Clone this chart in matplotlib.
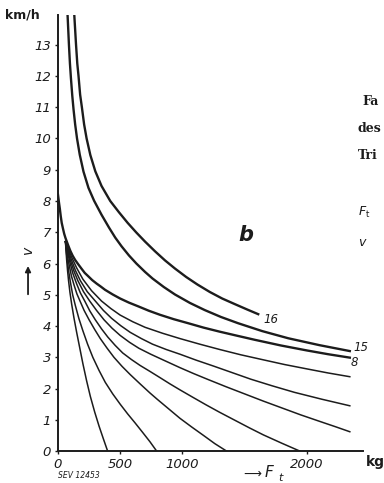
import matplotlib
matplotlib.use("Agg")
import matplotlib.pyplot as plt

# traction characteristics v(F_t); points read as (kg, km/h)
c16_F = [131, 145, 155, 165, 178, 192, 210, 230, 260, 300, 350, 420, 490, 560, 630, 700,
         780, 860, 940, 1030, 1120, 1220, 1320, 1422, 1520, 1609]
c16_v = [13.95, 13.0, 12.4, 12.0, 11.4, 11.0, 10.45, 10.0, 9.47, 8.95, 8.48, 8.0, 7.64, 7.3, 6.99, 6.7,
         6.39, 6.1, 5.84, 5.57, 5.33, 5.09, 4.88, 4.7, 4.53, 4.38]
c15_F = [77, 88, 96, 104, 115, 125, 138, 153, 175, 205, 245, 290, 350, 410, 460, 511, 570, 630, 700,
         760, 850, 940, 1060, 1180, 1310, 1448, 1640, 1850, 2100, 2345]
c15_v = [13.95, 13.0, 12.4, 11.93, 11.36, 10.93, 10.45, 10.0, 9.48, 8.94, 8.42, 8.01, 7.56, 7.15, 6.83,
         6.55, 6.26, 6.0, 5.73, 5.52, 5.25, 5.01, 4.74, 4.51, 4.29, 4.09, 3.84, 3.61, 3.39, 3.2]
c8_F = [0, 8, 15, 22, 30, 40, 50, 60, 70, 85, 100, 118, 137, 160, 190, 215, 244, 275, 310, 345, 378,
        440, 500, 570, 645, 730, 820, 930, 1047, 1170, 1300, 1440, 1582, 1790, 2000, 2170, 2345]
c8_v = [8.2, 7.95, 7.75, 7.52, 7.3, 7.12, 6.95, 6.82, 6.71, 6.55, 6.4, 6.25, 6.12, 5.99, 5.83, 5.7, 5.59,
        5.47, 5.36, 5.26, 5.16, 5.01, 4.88, 4.75, 4.63, 4.49, 4.36, 4.22, 4.09, 3.95, 3.82, 3.69, 3.56,
        3.38, 3.22, 3.1, 2.99]

# lower notches, all leaving the common point near 60 kg / 6.7 km/h
fan_F = [
    [60, 65, 70, 77, 85, 96, 110, 128, 150, 175, 200, 230, 260, 295, 330, 365, 399],
    [60, 67, 75, 86, 100, 118, 140, 168, 200, 238, 280, 330, 380, 440, 500, 560, 620, 680, 739, 793],
    [60, 70, 80, 90, 108, 130, 152, 177, 210, 250, 295, 340, 395, 450, 515, 580, 660, 739, 800, 860,
     920, 980, 1075, 1170, 1260, 1355],
    [60, 72, 95, 120, 150, 180, 215, 255, 300, 350, 400, 460, 520, 590, 660, 739, 820, 900, 980, 1080,
     1190, 1300, 1420, 1540, 1650, 1800, 1944],
    [60, 75, 100, 128, 160, 205, 255, 310, 370, 435, 500, 575, 650, 745, 843, 980, 1090, 1200, 1350,
     1500, 1650, 1800, 1950, 2104, 2230, 2345],
    [60, 80, 105, 140, 180, 235, 300, 365, 430, 505, 580, 670, 760, 870, 980, 1110, 1250, 1400, 1550,
     1720, 1900, 2120, 2345],
    [60, 82, 110, 150, 200, 270, 350, 425, 500, 600, 700, 840, 980, 1140, 1300, 1470, 1650, 1820, 2000,
     2170, 2345],
]
fan_v = [
    [6.7, 6.38, 6.1, 5.77, 5.45, 5.08, 4.7, 4.27, 3.8, 3.3, 2.8, 2.25, 1.75, 1.25, 0.8, 0.39, 0.0],
    [6.7, 6.38, 6.1, 5.75, 5.4, 5.0, 4.65, 4.24, 3.85, 3.42, 3.0, 2.58, 2.2, 1.83, 1.5, 1.19, 0.9, 0.6,
     0.3, 0.0],
    [6.7, 6.4, 6.15, 5.95, 5.6, 5.3, 5.03, 4.8, 4.5, 4.2, 3.89, 3.6, 3.29, 3.0, 2.71, 2.45, 2.15, 1.86,
     1.65, 1.45, 1.25, 1.05, 0.77, 0.5, 0.24, 0.0],
    [6.7, 6.45, 6.05, 5.68, 5.35, 5.06, 4.8, 4.49, 4.2, 3.91, 3.65, 3.38, 3.14, 2.93, 2.74, 2.55, 2.35,
     2.15, 1.96, 1.73, 1.48, 1.24, 0.99, 0.74, 0.52, 0.25, 0.0],
    [6.7, 6.45, 6.1, 5.76, 5.45, 5.1, 4.8, 4.5, 4.2, 3.93, 3.7, 3.48, 3.29, 3.1, 2.92, 2.67, 2.48, 2.3,
     2.06, 1.83, 1.6, 1.38, 1.16, 0.95, 0.78, 0.62],
    [6.7, 6.45, 6.15, 5.78, 5.45, 5.1, 4.8, 4.5, 4.25, 4.01, 3.8, 3.6, 3.42, 3.25, 3.1, 2.91, 2.72, 2.51,
     2.3, 2.09, 1.88, 1.66, 1.45],
    [6.7, 6.47, 6.2, 5.86, 5.5, 5.13, 4.8, 4.56, 4.35, 4.14, 3.96, 3.77, 3.6, 3.42, 3.25, 3.08, 2.92,
     2.77, 2.63, 2.5, 2.38],
]

y_ticks = list(range(0, 14))
x_ticks = [0, 500, 1000, 2000]

ink = "#1c1c1c"
fig = plt.figure(figsize=(3.84, 4.83), dpi=100)
ax = fig.add_axes([0.151, 0.066, 0.794, 0.903])

ax.plot(c16_F, c16_v, color=ink, lw=1.7, solid_joinstyle="round")
ax.plot(c15_F, c15_v, color=ink, lw=1.7, solid_joinstyle="round")
ax.plot(c8_F, c8_v, color=ink, lw=1.7, solid_joinstyle="round")
for F, v in zip(fan_F, fan_v):
    ax.plot(F, v, color=ink, lw=1.1, solid_joinstyle="round")

ax.set_xlim(0, 2450)
ax.set_ylim(0, 13.95)
for s in ["top", "right"]:
    ax.spines[s].set_visible(False)
for s in ["left", "bottom"]:
    ax.spines[s].set_linewidth(1.4)
    ax.spines[s].set_color(ink)

ax.set_yticks(y_ticks)
ax.set_yticklabels([str(t) for t in y_ticks], style="italic", fontsize=9.5)
ax.set_xticks(x_ticks)
ax.set_xticklabels([str(t) for t in x_ticks], style="italic", fontsize=9.5)
ax.tick_params(length=2, width=1, color=ink, labelcolor=ink, pad=3)

# curve labels
ax.text(1650, 4.22, "16", style="italic", fontsize=8.5, va="center", ha="left", color=ink)
ax.text(2370, 3.3, "15", style="italic", fontsize=8.5, va="center", ha="left", color=ink)
ax.text(2355, 2.83, "8", style="italic", fontsize=8.5, va="center", ha="left", color=ink)

# axis captions
fig.text(0.013, 0.969, "km/h", fontsize=9, fontweight="bold", va="center", ha="left", color=ink)
fig.text(0.953, 0.043, "kg", fontsize=10, fontweight="bold", va="center", ha="left", color=ink)
fig.text(0.150, 0.016, "SEV 12453", fontsize=5.5, style="italic", va="center", ha="left", color=ink)
fig.text(0.685, 0.021, r"$\longrightarrow$", fontsize=9, va="center", ha="right", color=ink)
fig.text(0.688, 0.021, "F", fontsize=11, style="italic", va="center", ha="left", color=ink)
fig.text(0.724, 0.010, "t", fontsize=8, style="italic", va="center", ha="left", color=ink)
fig.text(0.073, 0.482, "v", fontsize=10, style="italic", rotation=90, va="center", ha="center", color=ink)
ax.annotate("", xy=(0.073, 0.455), xytext=(0.073, 0.385), xycoords="figure fraction",
            textcoords="figure fraction", annotation_clip=False,
            arrowprops=dict(arrowstyle="-|>", color=ink, lw=1.3, mutation_scale=8))
fig.text(0.64, 0.513, "b", fontsize=15, fontweight="bold", style="italic", va="center", ha="center", color=ink)

# fragments of the neighbouring caption
for y, s in [(0.789, "Fa"), (0.733, "des"), (0.679, "Tri")]:
    fig.text(0.945 if s == "Fa" else 0.932, y, s, family="DejaVu Serif", fontsize=9, fontweight="bold",
             va="center", ha="left", color=ink)
fig.text(0.932, 0.561, r"$F_\mathrm{t}$", fontsize=9, va="center", ha="left", color=ink)
fig.text(0.932, 0.498, r"$v$", fontsize=9, va="center", ha="left", color=ink)

fig.savefig("out.png", dpi=100)
